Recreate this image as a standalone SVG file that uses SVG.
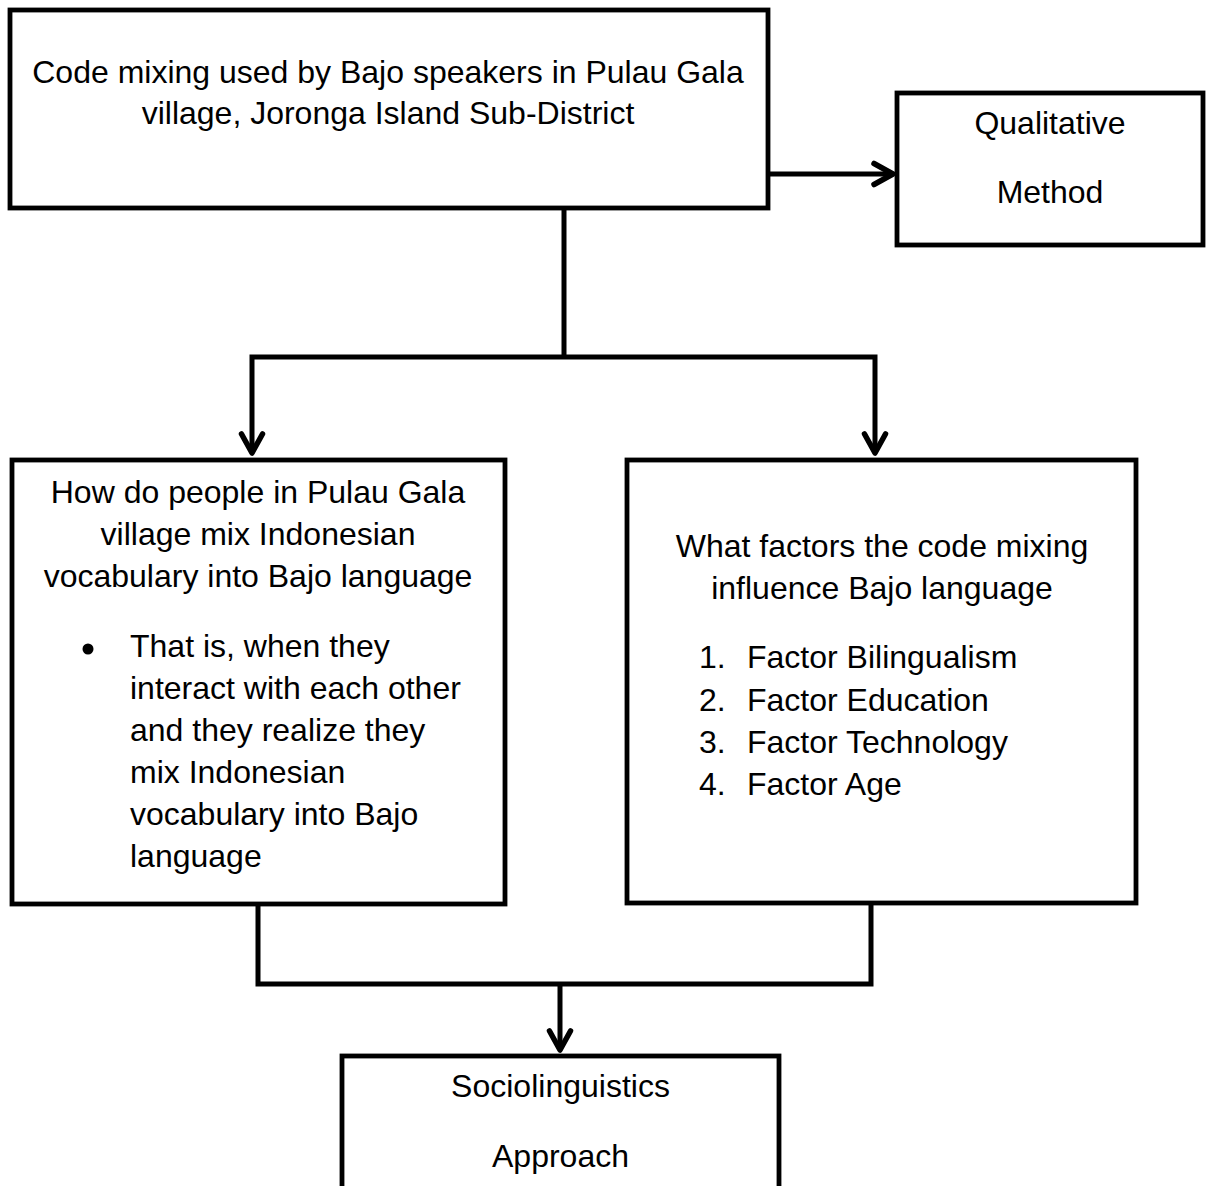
<svg xmlns="http://www.w3.org/2000/svg" width="1211" height="1186" viewBox="0 0 1211 1186">
  <style>
    .box { fill: #ffffff; stroke: #000000; stroke-width: 4.8; }
    .t { font-family: "Liberation Sans", Arial, sans-serif; font-size: 32px; fill: #000000; }
    .c { text-anchor: middle; }
    .conn { fill: none; stroke: #000000; stroke-width: 5; stroke-linejoin: miter; }
  </style>
  <defs>
    <marker id="arrow" markerUnits="userSpaceOnUse" viewBox="-24 -14 28 28" refX="0" refY="0" markerWidth="28" markerHeight="28" orient="auto" overflow="visible">
      <path d="M-19,-10.5 L0,0 L-19,10.5" fill="none" stroke="#000000" stroke-width="5.5" stroke-linecap="round" stroke-linejoin="round"/>
    </marker>
  </defs>
  <rect width="1211" height="1186" fill="#ffffff"/>

  <g id="connectors">
    <path class="conn" d="M768,174 H893" marker-end="url(#arrow)"/>
    <path class="conn" d="M564,208 V357"/>
    <path class="conn" d="M564,357 H252 V453" marker-end="url(#arrow)"/>
    <path class="conn" d="M564,357 H875 V453" marker-end="url(#arrow)"/>
    <path class="conn" d="M258,904 V984 H871 V902"/>
    <path class="conn" d="M560,984 V1050" marker-end="url(#arrow)"/>
  </g>

  <g id="node-topic">
    <rect class="box" x="10" y="10" width="758" height="198"/>
    <text class="t c" x="388" y="83">Code mixing used by Bajo speakers in Pulau Gala</text>
    <text class="t c" x="388" y="124">village, Joronga Island Sub-District</text>
  </g>

  <g id="node-method">
    <rect class="box" x="897" y="93" width="306" height="152"/>
    <text class="t c" x="1050" y="134">Qualitative</text>
    <text class="t c" x="1050" y="203">Method</text>
  </g>

  <g id="node-how">
    <rect class="box" x="12" y="460" width="493" height="444"/>
    <text class="t c" x="258" y="503">How do people in Pulau Gala</text>
    <text class="t c" x="258" y="545">village mix Indonesian</text>
    <text class="t c" x="258" y="587">vocabulary into Bajo language</text>
    <circle cx="88" cy="649" r="5.5" fill="#000000"/>
    <text class="t" x="130" y="657">That is, when they</text>
    <text class="t" x="130" y="699">interact with each other</text>
    <text class="t" x="130" y="741">and they realize they</text>
    <text class="t" x="130" y="783">mix Indonesian</text>
    <text class="t" x="130" y="825">vocabulary into Bajo</text>
    <text class="t" x="130" y="867">language</text>
  </g>

  <g id="node-factors">
    <rect class="box" x="627" y="460" width="509" height="443"/>
    <text class="t c" x="882" y="557">What factors the code mixing</text>
    <text class="t c" x="882" y="599">influence Bajo language</text>
    <text class="t" x="699" y="668">1.</text>
    <text class="t" x="747" y="668">Factor Bilingualism</text>
    <text class="t" x="699" y="711">2.</text>
    <text class="t" x="747" y="711">Factor Education</text>
    <text class="t" x="699" y="753">3.</text>
    <text class="t" x="747" y="753">Factor Technology</text>
    <text class="t" x="699" y="795">4.</text>
    <text class="t" x="747" y="795">Factor Age</text>
  </g>

  <g id="node-approach">
    <rect class="box" x="342" y="1056" width="437" height="200"/>
    <text class="t c" x="560.5" y="1097">Sociolinguistics</text>
    <text class="t c" x="560.5" y="1167">Approach</text>
  </g>
</svg>
